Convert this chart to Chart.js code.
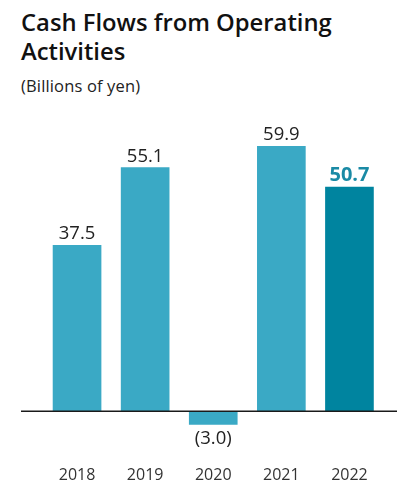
<!DOCTYPE html>
<html lang="en">
<head>
<meta charset="UTF-8">
<title>Cash Flows from Operating Activities</title>
<script src="https://cdn.jsdelivr.net/npm/chart.js"></script>
<style>
  html, body { margin: 0; padding: 0; background: #fff; }
  body { width: 398px; height: 487px; position: relative; overflow: hidden; font-family: "Open Sans", sans-serif; }
  .title { position: absolute; left: 21px; top: 8px; margin: 0; font-size: 23.8px; font-weight: 600; line-height: 29px; color: #111; white-space: nowrap; }
  .unit { position: absolute; left: 21px; top: 76px; margin: 0; font-size: 16.5px; line-height: 20px; letter-spacing: 0.15px; color: #222; }
  #wrap { position: absolute; left: 0; top: 0; width: 398px; height: 487px; }
</style>
</head>
<body>
<h1 class="title">Cash Flows from Operating<br>Activities</h1>
<p class="unit">(Billions of yen)</p>
<div id="wrap"><canvas id="cfChart"></canvas></div>

<script>
// fiscal years and operating cash flow (billions of yen)
const years = ["2018", "2019", "2020", "2021", "2022"];
const cashFlows = [37.5, 55.1, -3.0, 59.9, 50.7];
const latestIndex = 4;

const barColor = "#3aa9c5";
const latestColor = "#00849f";

function fmt(v) {
  return v < 0 ? "(" + Math.abs(v).toFixed(1) + ")" : v.toFixed(1);
}

// zero line, value labels and year labels
const decorations = {
  id: "decorations",
  afterDatasetsDraw(chart) {
    const ctx = chart.ctx;
    const x = chart.scales.x;
    const y = chart.scales.y;
    const zeroY = y.getPixelForValue(0);

    ctx.save();
    ctx.strokeStyle = "#1a1a1a";
    ctx.lineWidth = 1.5;
    ctx.beginPath();
    ctx.moveTo(21, zeroY);
    ctx.lineTo(chart.width - 1, zeroY);
    ctx.stroke();

    const meta = chart.getDatasetMeta(0);
    ctx.textAlign = "center";
    meta.data.forEach((bar, i) => {
      const v = cashFlows[i];
      if (i === latestIndex) {
        ctx.font = "bold 20px 'Open Sans'";
        ctx.fillStyle = "#1a8aa5";
      } else {
        ctx.font = "18.5px 'Open Sans'";
        ctx.fillStyle = "#222";
      }
      if (v >= 0) {
        ctx.textBaseline = "alphabetic";
        ctx.fillText(fmt(v), bar.x, bar.y - 6);
      } else {
        ctx.textBaseline = "middle";
        ctx.fillText(fmt(v), bar.x, bar.y + 14);
      }
    });

    ctx.font = "16px 'Open Sans'";
    ctx.fillStyle = "#333";
    ctx.textBaseline = "middle";
    years.forEach((yr, i) => {
      ctx.fillText(yr, x.getPixelForValue(i), 475);
    });
    ctx.restore();
  }
};

new Chart(document.getElementById("cfChart"), {
  type: "bar",
  data: {
    labels: years,
    datasets: [{
      data: cashFlows,
      backgroundColor: cashFlows.map((v, i) => i === latestIndex ? latestColor : barColor),
      barThickness: 48,
      borderWidth: 0
    }]
  },
  options: {
    responsive: true,
    maintainAspectRatio: false,
    animation: false,
    layout: { padding: { top: 130, bottom: 47, left: 43, right: 14.5 } },
    plugins: { legend: { display: false }, tooltip: { enabled: false } },
    scales: {
      x: { display: false },
      y: { display: false, min: -6.5, max: 63.6 }
    }
  },
  plugins: [decorations]
});
</script>
</body>
</html>
